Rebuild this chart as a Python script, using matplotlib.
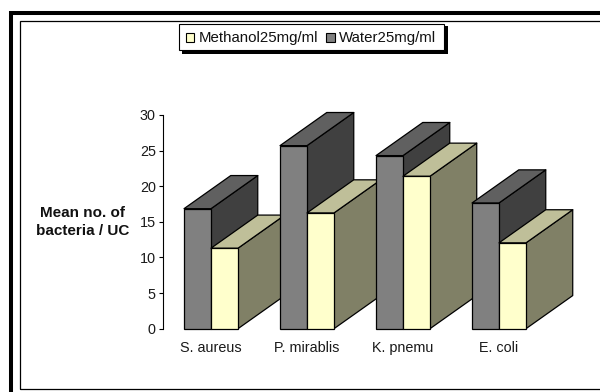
#!/usr/bin/env python3

import matplotlib
matplotlib.use("Agg")
import matplotlib.pyplot as plt
from matplotlib.patches import Rectangle

categories = ["S. aureus", "P. mirablis", "K. pnemu", "E. coli"]
methanol = [11.3, 16.25, 21.4, 12.05]
water = [16.85, 25.7, 24.3, 17.65]
y_ticks = [0, 5, 10, 15, 20, 25, 30]

W, H = 600, 392
FONT = "Liberation Sans"

# depth of the fake 3d bars, in data units
DEPTH_X = 0.487
DEPTH_Y = 4.65
BAR_W = 0.281


def bar3d(ax, x, value, front, top, side, z):
    x0, x1 = x, x + BAR_W
    line = dict(edgecolor="black", linewidth=0.9, zorder=z, joinstyle="round",
                clip_on=False)
    ax.fill([x1, x1 + DEPTH_X, x1 + DEPTH_X, x1],
            [0, DEPTH_Y, value + DEPTH_Y, value], facecolor=side, **line)
    ax.fill([x0, x1, x1 + DEPTH_X, x0 + DEPTH_X],
            [value, value, value + DEPTH_Y, value + DEPTH_Y],
            facecolor=top, **line)
    ax.bar(x0, value, BAR_W, align="edge", color=front, edgecolor="black",
           linewidth=0.9, zorder=z, clip_on=False)


def frame(fig, x0, y0, x1, y1, lw):
    fig.add_artist(Rectangle((x0 / W, 1 - y1 / H), (x1 - x0) / W, (y1 - y0) / H,
                             transform=fig.transFigure, fill=False,
                             edgecolor="black", linewidth=lw))


def main() -> None:
    plt.rcParams["font.family"] = FONT
    fig = plt.figure(figsize=(W / 100, H / 100), dpi=100, facecolor="white")

    # the right and bottom of the outer frame run off the canvas
    frame(fig, 11.3, 13.2, 620, 410, 2.9)
    frame(fig, 19.5, 21, 620, 388.7, 0.9)

    left, right, top, bottom = 163, 595, 115, 328.7
    ax = fig.add_axes([left / W, 1 - bottom / H, (right - left) / W,
                       (bottom - top) / H])
    ax.patch.set_alpha(0)
    ax.set_xlim(-0.5, (right - left) / 96 - 0.5)
    ax.set_ylim(0, 30)
    for name in ["top", "right", "bottom"]:
        ax.spines[name].set_visible(False)
    ax.spines["left"].set_linewidth(0.8)

    for i in range(len(categories)):
        bar3d(ax, i - BAR_W, water[i], "#808080", "#606060", "#404040", 3 + 2 * i)
        bar3d(ax, i, methanol[i], "#FFFFCC", "#BFBF99", "#808066", 4 + 2 * i)

    ax.set_yticks(y_ticks)
    ax.set_xticks(range(len(categories)))
    ax.set_xticklabels(categories, fontsize=10.4, color="#1a1a1a")
    ax.tick_params(axis="x", length=0, pad=8.5)
    ax.tick_params(axis="y", length=3.2, width=0.8, labelsize=10.4, pad=2,
                   labelcolor="#1a1a1a")

    fig.text(82.5 / W, 1 - 222 / H, "Mean no. of\nbacteria / UC", ha="center",
             va="center", fontsize=11, fontweight="bold", linespacing=1.3,
             color="#111111")

    # legend box with hard black shadow
    fig.add_artist(Rectangle((182 / W, 1 - 53.7 / H), 265.7 / W, 28 / H,
                             transform=fig.transFigure, facecolor="black",
                             edgecolor="black", linewidth=0))
    fig.add_artist(Rectangle((179.3 / W, 1 - 50 / H), 265 / W, 25.7 / H,
                             transform=fig.transFigure, facecolor="white",
                             edgecolor="black", linewidth=0.8))
    for px, color, label, tx in [(185.5, "#FFFFCC", "Methanol25mg/ml", 198.5),
                                 (326, "#808080", "Water25mg/ml", 339)]:
        fig.add_artist(Rectangle((px / W, 1 - 41.5 / H), 8.5 / W, 8.5 / H,
                                 transform=fig.transFigure, facecolor=color,
                                 edgecolor="black", linewidth=0.8))
        fig.text(tx / W, 1 - 38 / H, label, fontsize=10.8, va="center",
                 color="#111111")

    fig.savefig("out.png", dpi=100)


if __name__ == "__main__":
    main()
